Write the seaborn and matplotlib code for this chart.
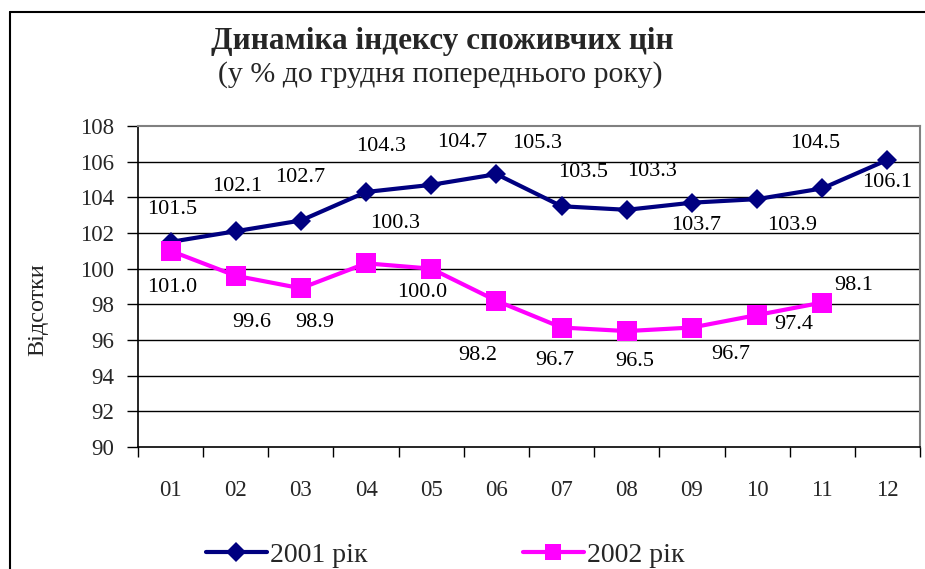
import matplotlib
matplotlib.use("Agg")
import matplotlib.pyplot as plt
import seaborn as sns
import pandas as pd
import numpy as np
from matplotlib.lines import Line2D

months = ["01", "02", "03", "04", "05", "06", "07", "08", "09", "10", "11", "12"]
values_2001 = [101.5, 102.1, 102.7, 104.3, 104.7, 105.3, 103.5, 103.3, 103.7, 103.9, 104.5, 106.1]
values_2002 = [101.0, 99.6, 98.9, 100.3, 100.0, 98.2, 96.7, 96.5, 96.7, 97.4, 98.1]
series_names = ["2001 рік", "2002 рік"]
y_ticks = [90, 92, 94, 96, 98, 100, 102, 104, 106, 108]

title = "Динаміка індексу споживчих цін"
subtitle = "(у % до грудня попереднього року)"
y_label = "Відсотки"

# label offsets in pixels (dx, dy) - dy positive upward
off_2001 = [(2, 32), (1, 45), (-1, 43), (15, 45), (31, 42), (41, 31), (22, 34), (25, 38),
            (4, -23), (35, -26), (-7, 45), (0, -23)]
off_2002 = [(2, -37), (16, -47), (14, -34), (29, 40), (-9, -24), (-19, -55), (-7, -33),
            (8, -30), (39, -27), (37, -9), (32, 17)]

sns.set_theme(style="white")
plt.rcParams['font.family'] = ['Liberation Serif', 'DejaVu Serif']

fig = plt.figure(figsize=(9.25, 5.69), dpi=100)
ax = fig.add_axes([138/925, 1-447/569, (920-138)/925, (447-126)/569])

df1 = pd.DataFrame({"month": months, "x": np.arange(len(values_2001)), "value": values_2001})
df2 = pd.DataFrame({"month": months[:len(values_2002)], "x": np.arange(len(values_2002)), "value": values_2002})

for yv in y_ticks[1:-1]:
    ax.axhline(yv, color="#000000", lw=1.0, zorder=0)

sns.lineplot(data=df1, x="x", y="value", ax=ax, color="#000080", lw=3, marker="D",
             markersize=10, markeredgewidth=0, label=series_names[0], zorder=3)
sns.lineplot(data=df2, x="x", y="value", ax=ax, color="#FF00FF", lw=3, marker="s",
             markersize=15, markeredgewidth=0, label=series_names[1], zorder=3)

for xi, v, (dx, dy) in zip(df1["x"], values_2001, off_2001):
    ax.annotate(f"{v:.1f}", (xi, v), xytext=(dx, dy), textcoords="offset pixels",
                ha="center", va="center", fontsize=16, color="black", zorder=4)
for xi, v, (dx, dy) in zip(df2["x"], values_2002, off_2002):
    ax.annotate(f"{v:.1f}", (xi, v), xytext=(dx, dy), textcoords="offset pixels",
                ha="center", va="center", fontsize=16, color="black", zorder=4)

ax.set_xlim(-0.5, len(months) - 0.5)
ax.set_ylim(y_ticks[0], y_ticks[-1])
ax.set_yticks(y_ticks)
ax.set_yticklabels([str(t) for t in y_ticks], fontsize=16.5)
ax.set_xticks(np.arange(len(months) + 1) - 0.5)
ax.set_xticklabels([])
ax.set_xticks(np.arange(len(months)), minor=True)
ax.set_xticklabels(months, minor=True, fontsize=16.5)
ax.tick_params(axis="x", which="major", direction="out", length=7, width=1, color="black", bottom=True)
ax.tick_params(axis="x", which="minor", length=0, pad=24, bottom=True)
ax.tick_params(axis="y", direction="out", length=8, width=1, color="black", pad=9, left=True)
ax.set_xlabel("")
ax.set_ylabel("")

for s in ["top", "right"]:
    ax.spines[s].set_color("#808080")
    ax.spines[s].set_linewidth(1.5)
for s in ["left", "bottom"]:
    ax.spines[s].set_color("black")
    ax.spines[s].set_linewidth(1.2)

fig.text(38/925, 1-310/569, y_label, rotation=90, ha="center", va="center", fontsize=17.5)
fig.text(442/925, 1-41/569, title, ha="center", va="center", fontsize=22.5, fontweight="bold")
fig.text(440/925, 1-75/569, subtitle, ha="center", va="center", fontsize=21.5)

ax.legend_.remove()
handles = [Line2D([0], [0], color="#000080", lw=3, marker="D", markersize=10, markeredgewidth=0),
           Line2D([0], [0], color="#FF00FF", lw=3, marker="s", markersize=12, markeredgewidth=0)]
fig.legend(handles, series_names, loc="center", bbox_to_anchor=(445/925, 1-555/569), ncol=2,
           frameon=False, fontsize=20, columnspacing=5.6, handlelength=2.2, handletextpad=0.1,
           borderpad=0, borderaxespad=0)

fig.add_artist(Line2D([10/925, 1.0], [1-12/569, 1-12/569], color="black", lw=1.5, transform=fig.transFigure))
fig.add_artist(Line2D([10/925, 10/925], [0, 1-12/569], color="black", lw=1.5, transform=fig.transFigure))

fig.savefig("out.png", dpi=100, facecolor="white")
